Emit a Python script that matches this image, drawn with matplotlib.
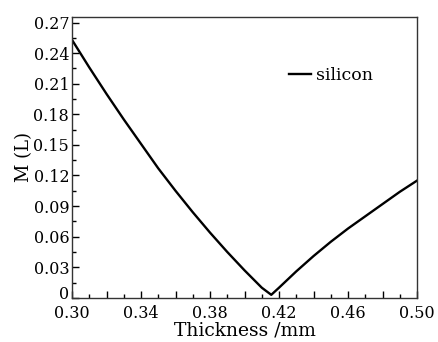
import numpy as np
import matplotlib
matplotlib.use("Agg")
import matplotlib.pyplot as plt
from matplotlib.ticker import MultipleLocator, FuncFormatter

# thickness (mm) and M(L)
thickness = [0.30, 0.31, 0.32, 0.33, 0.34, 0.35, 0.36, 0.37, 0.38, 0.39,
             0.40, 0.41, 0.4155, 0.42, 0.43, 0.44, 0.45, 0.46, 0.47,
             0.48, 0.49, 0.50]
m_silicon = [0.253, 0.226, 0.200, 0.175, 0.151, 0.127, 0.105, 0.084, 0.064,
             0.045, 0.027, 0.010, 0.003, 0.010, 0.026, 0.041, 0.055, 0.068,
             0.080, 0.092, 0.104, 0.115]

plt.rcParams['font.family'] = 'DejaVu Serif'

fig = plt.figure(figsize=(4.39, 3.42), dpi=100)
ax = fig.add_axes([0.164, 0.129, 0.786, 0.821])

ax.plot(thickness, m_silicon, color='black', lw=1.7, label='silicon')

ax.set_xlim(0.30, 0.50)
ax.set_ylim(0, 0.2753)

ax.xaxis.set_major_locator(MultipleLocator(0.02))
ax.xaxis.set_minor_locator(MultipleLocator(0.01))
ax.yaxis.set_major_locator(MultipleLocator(0.03))
ax.yaxis.set_minor_locator(MultipleLocator(0.015))


def xfmt(v, pos):
    # only every other major tick carries a label (0.30, 0.34, ...)
    if (int(round(v * 100)) - 30) % 4 != 0:
        return ''
    return '%.2f' % v


def yfmt(v, pos):
    # the "0" is drawn separately below, nudged up to clear "0.30"
    if abs(v) < 1e-9:
        return ''
    return '%.2f' % v


ax.xaxis.set_major_formatter(FuncFormatter(xfmt))
ax.yaxis.set_major_formatter(FuncFormatter(yfmt))

ax.tick_params(which='both', direction='in', top=False, right=False,
               labelsize=11.5, width=1.0)
ax.tick_params(axis='x', pad=5)
ax.tick_params(axis='y', pad=2)
ax.tick_params(which='major', length=5)
ax.tick_params(which='minor', length=3)

ax.annotate('0', xy=(0, 0), xycoords=('axes fraction', 'data'),
            xytext=(-2, 2.5), textcoords='offset points',
            ha='right', va='center', fontsize=11.5)

for s in ax.spines.values():
    s.set_linewidth(1.0)
    s.set_color('#333333')

ax.set_xlabel('Thickness /mm', fontsize=13.5, labelpad=0)
ax.set_ylabel('M (L)', fontsize=13, labelpad=0)

ax.legend(loc='upper right', bbox_to_anchor=(0.919, 0.879), frameon=False,
          fontsize=12.5, handlelength=1.3, handletextpad=0.3)

fig.savefig('out.png', dpi=100)
